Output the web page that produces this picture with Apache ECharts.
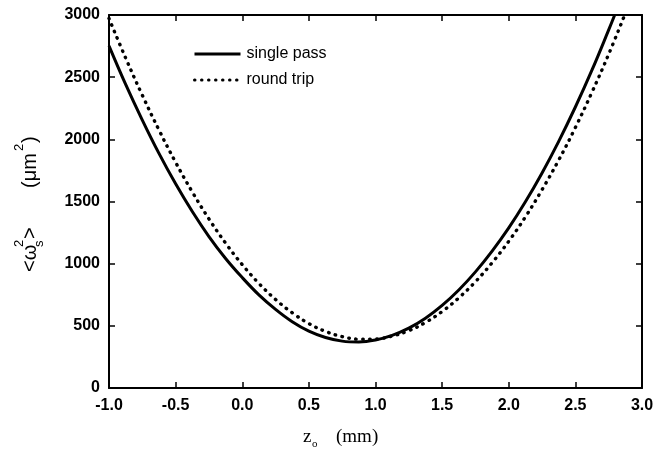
<!DOCTYPE html>
<html>
<head>
<meta charset="utf-8">
<script src="https://cdn.jsdelivr.net/npm/echarts@6/dist/echarts.min.js"></script>
<style>
  html, body { margin: 0; padding: 0; background: #fff; }
  #chart { width: 670px; height: 458px; }
</style>
</head>
<body>
<div id="chart"></div>
<script>
// z_o positions (mm)
var zSingle = [-1.0, -0.875, -0.75, -0.625, -0.5, -0.375, -0.25, -0.125, 0.0, 0.125, 0.25, 0.375, 0.5, 0.625, 0.75, 0.875,
	1.0, 1.125, 1.25, 1.375, 1.5, 1.625, 1.75, 1.875, 2.0, 2.125, 2.25, 2.375, 2.5, 2.625, 2.75, 2.795];
var zRound = [-1.0, -0.875, -0.75, -0.625, -0.5, -0.375, -0.25, -0.125, 0.0, 0.125, 0.25, 0.375, 0.5, 0.625, 0.75, 0.875,
	1.0, 1.125, 1.25, 1.375, 1.5, 1.625, 1.75, 1.875, 2.0, 2.125, 2.25, 2.375, 2.5, 2.625, 2.75, 2.87];
// <w_s^2> values (um^2)
var singlePass = [2752, 2442, 2155, 1887, 1642, 1419, 1218, 1042, 888, 749, 632, 533, 457, 406, 377, 370,
	386, 423, 481, 561, 664, 788, 934, 1101, 1288, 1498, 1730, 1984, 2260, 2558, 2880, 3000];
var roundTrip = [2972, 2654, 2355, 2075, 1815, 1577, 1360, 1165, 992, 841, 712, 605, 518, 455, 413, 393,
	394, 418, 461, 527, 615, 725, 855, 1007, 1180, 1376, 1595, 1833, 2095, 2380, 2685, 3000];
var legendNames = ['single pass', 'round trip'];

function pairs(xs, ys) {
	var out = [];
	for (var i = 0; i < xs.length; i++) {
		out.push([xs[i], ys[i]]);
	}
	return out;
}

var myChart = echarts.init(document.getElementById('chart'));
var labelFont = {
	color: '#000',
	fontFamily: 'Liberation Sans, Arial, sans-serif',
	fontWeight: 'bold',
	fontSize: 16
};
var axisLineStyle = { onZero: false, lineStyle: { color: '#000', width: 2 } };
var tickStyle = { inside: true, length: 6, lineStyle: { color: '#000', width: 1.5 } };

option = {
	animation: false,
	backgroundColor: '#fff',
	grid: { left: 109, right: 28, top: 15, bottom: 70 },
	legend: {
		orient: 'vertical',
		left: 188,
		top: 41,
		itemWidth: 46,
		itemHeight: 14,
		itemGap: 10,
		data: legendNames,
		itemStyle: { opacity: 0 },
		lineStyle: { width: 3 },
		textStyle: {
			color: '#000',
			fontFamily: 'Liberation Sans, Arial, sans-serif',
			fontSize: 16,
			padding: [0, 0, 0, 1]
		}
	},
	xAxis: [{
		type: 'value',
		min: -1,
		max: 3,
		interval: 0.5,
		axisLine: axisLineStyle,
		axisTick: tickStyle,
		splitLine: { show: false },
		axisLabel: Object.assign({ margin: 10, formatter: function(v) { return v.toFixed(1); } }, labelFont)
	}, {
		type: 'value',
		position: 'top',
		min: -1,
		max: 3,
		interval: 0.5,
		axisLine: axisLineStyle,
		axisTick: tickStyle,
		splitLine: { show: false },
		axisLabel: { show: false }
	}],
	yAxis: [{
		type: 'value',
		min: 0,
		max: 3000,
		interval: 500,
		axisLine: axisLineStyle,
		axisTick: tickStyle,
		splitLine: { show: false },
		axisLabel: Object.assign({ margin: 9, formatter: function(v) { return String(v); } }, labelFont)
	}, {
		type: 'value',
		position: 'right',
		min: 0,
		max: 3000,
		interval: 500,
		axisLine: axisLineStyle,
		axisTick: tickStyle,
		splitLine: { show: false },
		axisLabel: { show: false }
	}],
	series: [{
		name: legendNames[0],
		type: 'line',
		smooth: 0.4,
		symbol: 'none',
		color: '#000',
		lineStyle: { color: '#000', width: 3 },
		data: pairs(zSingle, singlePass)
	}, {
		name: legendNames[1],
		type: 'line',
		smooth: 0.4,
		symbol: 'none',
		color: '#000',
		lineStyle: { color: '#000', width: 3.4, type: [0.5, 6.5], cap: 'round' },
		data: pairs(zRound, roundTrip)
	}],
	graphic: [{
		// y axis title, rotated
		type: 'group',
		x: 30,
		y: 202,
		rotation: Math.PI / 2,
		children: [
			{ type: 'text', x: -70, y: 0, style: { text: '<ω', font: '20px Liberation Sans, Arial', fill: '#000', verticalAlign: 'middle' } },
			{ type: 'text', x: -45, y: -11, style: { text: '2', font: '13px Liberation Sans, Arial', fill: '#000', verticalAlign: 'middle' } },
			{ type: 'text', x: -45, y: 9, style: { text: 's', font: '13px Liberation Sans, Arial', fill: '#000', verticalAlign: 'middle' } },
			{ type: 'text', x: -37, y: 0, style: { text: '>', font: '20px Liberation Sans, Arial', fill: '#000', verticalAlign: 'middle' } },
			{ type: 'text', x: 14, y: 0, style: { text: '(μm', font: '20px Liberation Sans, Arial', fill: '#000', verticalAlign: 'middle' } },
			{ type: 'text', x: 51, y: -11, style: { text: '2', font: '13px Liberation Sans, Arial', fill: '#000', verticalAlign: 'middle' } },
			{ type: 'text', x: 59, y: 0, style: { text: ')', font: '20px Liberation Sans, Arial', fill: '#000', verticalAlign: 'middle' } }
		]
	}, {
		// x axis title
		type: 'group',
		x: 303,
		y: 437,
		children: [
			{ type: 'text', x: 0, y: 0, style: { text: 'z', font: '19px Liberation Serif, Times New Roman, serif', fill: '#000', verticalAlign: 'middle' } },
			{ type: 'text', x: 9, y: 7, style: { text: 'o', font: '11px Liberation Serif, Times New Roman, serif', fill: '#000', verticalAlign: 'middle' } },
			{ type: 'text', x: 33, y: 0, style: { text: '(mm)', font: '19px Liberation Serif, Times New Roman, serif', fill: '#000', verticalAlign: 'middle' } }
		]
	}]
};
myChart.setOption(option);
</script>
</body>
</html>
